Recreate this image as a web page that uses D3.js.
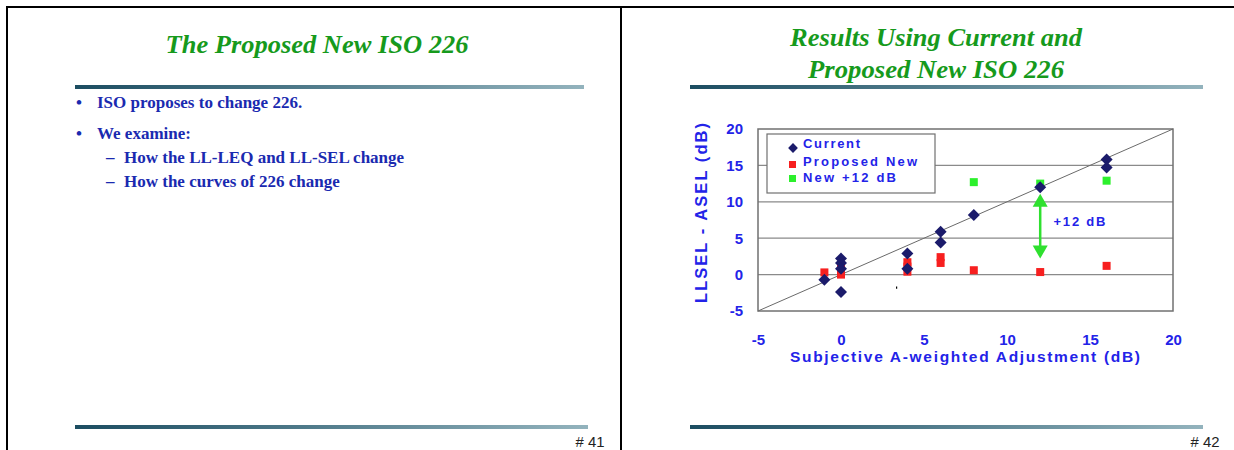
<!DOCTYPE html>
<html><head><meta charset="utf-8">
<script src="https://cdn.jsdelivr.net/npm/d3@7"></script>
<style>
html,body{margin:0;padding:0;background:#fff;}
svg{display:block;}
</style></head>
<body>
<script>
// ---- data ----
const leftTitle = "The Proposed New ISO 226";
const leftBullets = ["ISO proposes to change 226.", "We examine:"];
const leftSubBullets = ["How the LL-LEQ and LL-SEL change", "How the curves of 226 change"];
const rightTitle = ["Results Using Current and", "Proposed New ISO 226"];
const pageNumbers = ["# 41", "# 42"];

const seriesNames = ["Current", "Proposed New", "New +12 dB"];
const currentX = [-1, 0, 0, 0, 0, 4, 4, 6, 6, 8, 12, 16, 16];
const currentY = [-0.7, 2.2, 1.6, 0.8, -2.4, 2.9, 0.8, 5.9, 4.4, 8.2, 12.0, 15.8, 14.7];
const proposedX = [-1, 0, 0, 0, 4, 4, 4, 6, 6, 8, 12, 16];
const proposedY = [0.3, 0.9, 0.5, 0.0, 1.7, 1.1, 0.4, 2.4, 1.6, 0.6, 0.35, 1.2];
const plus12X = [8, 12, 16];
const plus12Y = [12.7, 12.5, 12.9];
const xTicks = [-5, 0, 5, 10, 15, 20];
const yTicks = [-5, 0, 5, 10, 15, 20];
const gridY = [0, 5, 10, 15];
const diagLine = [[-5, -5], [20, 20]];
const arrowX = 12, arrowLo = 2.2, arrowHi = 11.1;
const arrowLabel = "+12 dB";
const xTitle = "Subjective A-weighted Adjustment (dB)";
const yTitle = "LLSEL - ASEL (dB)";

// ---- drawing ----
const W = 1234, H = 450;
const svg = d3.select("body").append("svg").attr("width", W).attr("height", H);
const defs = svg.append("defs");
const grad = defs.append("linearGradient").attr("id", "bar");
grad.append("stop").attr("offset", "0%").attr("stop-color", "#1c4d61");
grad.append("stop").attr("offset", "45%").attr("stop-color", "#4f7a8a");
grad.append("stop").attr("offset", "100%").attr("stop-color", "#93b3bd");

// slide borders
svg.append("line").attr("x1", 6).attr("x2", W).attr("y1", 7).attr("y2", 7).attr("stroke", "#000").attr("stroke-width", 2);
svg.append("line").attr("x1", 7).attr("x2", 7).attr("y1", 6).attr("y2", H).attr("stroke", "#000").attr("stroke-width", 2);
svg.append("line").attr("x1", 621).attr("x2", 621).attr("y1", 6).attr("y2", H).attr("stroke", "#000").attr("stroke-width", 2);

// bars
[[75, 584, 87], [690, 1203, 87], [75, 588, 427], [690, 1203, 427]].forEach(b => {
  svg.append("rect").attr("x", b[0]).attr("y", b[2] - 2).attr("width", b[1] - b[0]).attr("height", 4).attr("fill", "url(#bar)");
});

const serif = "'Liberation Serif','Times New Roman',serif";
const sans = "'Liberation Sans',Arial,sans-serif";
const green = "#169a1c";
const navyText = "#1a2ab0";

// left slide
svg.append("text").attr("x", 317).attr("y", 53).attr("text-anchor", "middle")
  .attr("font-family", serif).attr("font-style", "italic").attr("font-weight", "bold")
  .attr("font-size", 25).attr("fill", green).attr("textLength", 303).attr("lengthAdjust", "spacingAndGlyphs").text(leftTitle);
leftBullets.forEach((t, i) => {
  const y = [108, 139][i];
  svg.append("text").attr("x", 76).attr("y", y).attr("font-family", serif).attr("font-weight", "bold")
    .attr("font-size", 17).attr("fill", navyText).text("•");
  svg.append("text").attr("x", 97).attr("y", y).attr("font-family", serif).attr("font-weight", "bold")
    .attr("font-size", 17).attr("fill", navyText).text(t);
});
leftSubBullets.forEach((t, i) => {
  const y = [163, 187][i];
  svg.append("text").attr("x", 106).attr("y", y).attr("font-family", serif).attr("font-weight", "bold")
    .attr("font-size", 17).attr("fill", navyText).text("–");
  svg.append("text").attr("x", 124).attr("y", y).attr("font-family", serif).attr("font-weight", "bold")
    .attr("font-size", 17).attr("fill", navyText).text(t);
});

// right slide title
rightTitle.forEach((t, i) => {
  svg.append("text").attr("x", 936).attr("y", [46, 78][i]).attr("text-anchor", "middle")
    .attr("font-family", serif).attr("font-style", "italic").attr("font-weight", "bold")
    .attr("font-size", 25).attr("fill", green).attr("textLength", [292, 256][i]).attr("lengthAdjust", "spacingAndGlyphs").text(t);
});

// page numbers
[[590, pageNumbers[0]], [1205, pageNumbers[1]]].forEach(p => {
  svg.append("text").attr("x", p[0]).attr("y", 447).attr("text-anchor", "middle")
    .attr("font-family", sans).attr("font-size", 15).attr("fill", "#222")
    .attr("textLength", 29).attr("lengthAdjust", "spacingAndGlyphs").text(p[1]);
});

// ---- chart ----
const x = d3.scaleLinear().domain([-5, 20]).range([758, 1173]);
const y = d3.scaleLinear().domain([-5, 20]).range([311, 129]);
const chartBlue = "#2323e8";

const g = svg.append("g");
// gridlines
g.selectAll(".grid").data(gridY).enter().append("line")
  .attr("x1", x(-5)).attr("x2", x(20)).attr("y1", d => y(d)).attr("y2", d => y(d))
  .attr("stroke", "#8a8a8a").attr("stroke-width", 1.2);
// plot border
g.append("rect").attr("x", x(-5)).attr("y", y(20)).attr("width", x(20) - x(-5)).attr("height", y(-5) - y(20))
  .attr("fill", "none").attr("stroke", "#707070").attr("stroke-width", 1.5);

// axes
const fmt = d => String(d);
const xAxis = g.append("g").attr("transform", `translate(0,${y(-5)})`)
  .call(d3.axisBottom(x).tickValues(xTicks).tickFormat(fmt).tickSize(0).tickPadding(23));
xAxis.select(".domain").remove();
xAxis.selectAll("text").attr("font-family", sans).attr("font-weight", "bold").attr("font-size", 15).attr("fill", chartBlue);
const yAxis = g.append("g").attr("transform", `translate(${x(-5)},0)`)
  .call(d3.axisLeft(y).tickValues(yTicks).tickFormat(fmt).tickSize(0).tickPadding(15));
yAxis.select(".domain").remove();
yAxis.selectAll("text").attr("font-family", sans).attr("font-weight", "bold").attr("font-size", 15).attr("fill", chartBlue);

// diagonal
g.append("path").attr("d", d3.line().x(d => x(d[0])).y(d => y(d[1]))(diagLine))
  .attr("stroke", "#6a6a6a").attr("stroke-width", 1).attr("fill", "none");

// stray mark
g.append("line").attr("x1", x(3.35)).attr("x2", x(3.35)).attr("y1", y(-1.65)).attr("y2", y(-1.95))
  .attr("stroke", "#000").attr("stroke-width", 1.2);

// proposed squares
const sq = 8;
g.selectAll(".prop").data(proposedX.map((v, i) => [v, proposedY[i]])).enter().append("rect")
  .attr("x", d => x(d[0]) - sq / 2).attr("y", d => y(d[1]) - sq / 2).attr("width", sq).attr("height", sq)
  .attr("fill", "#f71f1f");
// +12 squares
g.selectAll(".p12").data(plus12X.map((v, i) => [v, plus12Y[i]])).enter().append("rect")
  .attr("x", d => x(d[0]) - sq / 2).attr("y", d => y(d[1]) - sq / 2).attr("width", sq).attr("height", sq)
  .attr("fill", "#2cf02c");
// current diamonds
const diamond = d3.symbol().type(d3.symbolSquare).size(72);
g.selectAll(".cur").data(currentX.map((v, i) => [v, currentY[i]])).enter().append("path")
  .attr("d", diamond).attr("transform", d => `translate(${x(d[0])},${y(d[1])}) rotate(45)`)
  .attr("fill", "#1b1b6b");

// arrow
const arrowGreen = "#2fe02f";
const ax = x(arrowX), ayTop = y(arrowHi), ayBot = y(arrowLo);
g.append("line").attr("x1", ax).attr("x2", ax).attr("y1", ayTop + 10).attr("y2", ayBot - 10)
  .attr("stroke", arrowGreen).attr("stroke-width", 2.5);
g.append("path").attr("d", `M${ax},${ayTop} L${ax - 7.5},${ayTop + 13} L${ax + 7.5},${ayTop + 13} Z`).attr("fill", arrowGreen);
g.append("path").attr("d", `M${ax},${ayBot} L${ax - 7.5},${ayBot - 13} L${ax + 7.5},${ayBot - 13} Z`).attr("fill", arrowGreen);
g.append("text").attr("x", x(12.8)).attr("y", y(7.4) + 5)
  .attr("font-family", sans).attr("font-weight", "bold").attr("font-size", 13).attr("fill", chartBlue)
  .attr("textLength", 52).attr("lengthAdjust", "spacing").text(arrowLabel);

// legend
const lg = g.append("g");
lg.append("rect").attr("x", 767).attr("y", 134).attr("width", 168).attr("height", 59)
  .attr("fill", "#fff").attr("stroke", "#707070").attr("stroke-width", 1.2);
const legTextY = [148, 165.5, 182];
const legLen = [57, 114, 93];
seriesNames.forEach((n, i) => {
  const my = [148, 164.5, 178.5][i];
  if (i === 0) {
    lg.append("path").attr("d", d3.symbol().type(d3.symbolSquare).size(48)).attr("transform", `translate(793,${my}) rotate(45)`).attr("fill", "#1b1b6b");
  } else {
    lg.append("rect").attr("x", 789).attr("y", my - 3.5).attr("width", 7).attr("height", 7).attr("fill", i === 1 ? "#f71f1f" : "#2cf02c");
  }
  lg.append("text").attr("x", 803).attr("y", legTextY[i]).attr("font-family", sans).attr("font-weight", "bold")
    .attr("font-size", 13).attr("fill", chartBlue).attr("textLength", legLen[i]).attr("lengthAdjust", "spacing").text(n);
});

// axis titles
g.append("text").attr("x", 965).attr("y", 362).attr("text-anchor", "middle")
  .attr("font-family", sans).attr("font-weight", "bold").attr("font-size", 15.5).attr("fill", chartBlue)
  .attr("textLength", 350).attr("lengthAdjust", "spacing").text(xTitle);
g.append("text").attr("transform", "translate(707,213) rotate(-90)").attr("text-anchor", "middle")
  .attr("font-family", sans).attr("font-weight", "bold").attr("font-size", 16.5).attr("fill", chartBlue)
  .attr("textLength", 180).attr("lengthAdjust", "spacing").text(yTitle);
</script>
</body></html>
